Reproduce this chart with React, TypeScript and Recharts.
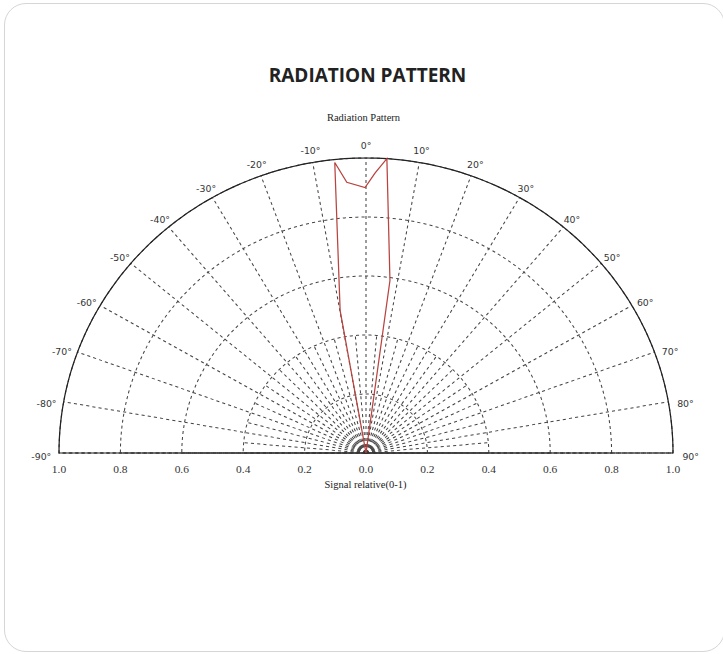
import React from 'react';
import { RadarChart, Radar, PolarGrid, PolarAngleAxis, PolarRadiusAxis } from 'recharts';

// ── beam outline (angle in degrees from boresight, relative signal 0-1) ──
const beamAngles = [0, -9.9, -7.6, -5.9, -3.9, -0.2, 1.8, 3.9, 7.6, 0];
const beamSignal = [0, 0.49, 0.69, 0.99, 0.92, 0.9, 0.95, 1.0, 0.59, 0];

const angleTicks = [-90, -80, -70, -60, -50, -40, -30, -20, -10, 0, 10, 20, 30, 40, 50, 60, 70, 80, 90];
// extra short spokes near the centre
const fineAngleTicks = [-85, -75, -65, -55, -45, -35, -25, -15, -5, 5, 15, 25, 35, 45, 55, 65, 75, 85];
const leftRadiusTicks = [0, 0.2, 0.4, 0.6, 0.8, 1.0];
const rightRadiusTicks = [0.2, 0.4, 0.6, 0.8, 1.0];

const data = beamAngles.map((a, i) => ({ angle: a, signal: beamSignal[i] }));

// geometry of the half-disc
const CX = 366;
const CY = 453;
const R = 295;
const FINE_R = R * 0.4;
const STRETCH = 307 / 295; // the original plot is a little wider than tall
// vertices for the arc-shaped rings (chart degrees, 0 = right, 180 = left)
const ARC_STEPS = Array.from({ length: 181 }, (_, i) => i);

const SERIF = '"Liberation Serif", "Times New Roman", serif';

function AngleTick(props: any) {
  const { x, y, payload } = props;
  const s = Math.sin((payload.value * Math.PI) / 180);
  return (
    <text
      x={x + 5 * Math.pow(s, 5)}
      y={y + 4 * s * s}
      textAnchor="middle"
      dominantBaseline="central"
      fontSize={9}
      fontFamily='"DejaVu Sans", sans-serif'
      fill="#333"
    >
      {`${payload.value}°`}
    </text>
  );
}

function RadiusTick(props: any) {
  const { x, y, payload } = props;
  return (
    <text
      x={x}
      y={y + 16}
      textAnchor="middle"
      dominantBaseline="central"
      fontSize={11}
      fontFamily={SERIF}
      fill="#333"
    >
      {Number(payload.value).toFixed(1)}
    </text>
  );
}

export default function App() {
  return (
    <div style={{ position: 'absolute', left: 0, top: 0, width: 723, height: 654, overflow: 'hidden', background: '#fff' }}>
      {/* card */}
      <div
        style={{
          position: 'absolute', left: 4, top: 3, width: 721, height: 649,
          border: '1px solid #d6d6d6', borderRadius: 22, boxSizing: 'border-box',
        }}
      />

      <div style={{ position: 'absolute', left: 6, top: 64, width: 723, textAlign: 'center',
        fontFamily: '"Open Sans", sans-serif', fontWeight: 700, fontSize: 19, color: '#222', lineHeight: '22px' }}>
        RADIATION PATTERN
      </div>
      <div style={{ position: 'absolute', left: 2, top: 111, width: 723, textAlign: 'center',
        fontFamily: SERIF, fontSize: 10.5, color: '#222', lineHeight: '14px' }}>
        Radiation Pattern
      </div>
      <div style={{ position: 'absolute', left: 4, top: 478, width: 723, textAlign: 'center',
        fontFamily: SERIF, fontSize: 10.5, color: '#222', lineHeight: '14px' }}>
        Signal relative(0-1)
      </div>

      {/* short spokes around the origin */}
      <div style={{ position: 'absolute', left: 0, top: 0, transform: `scaleX(${STRETCH})`, transformOrigin: `${CX}px 0` }}>
        <RadarChart width={723} height={654} data={data} cx={CX} cy={CY} outerRadius={FINE_R}
          startAngle={180} endAngle={0} margin={{ top: 0, right: 0, bottom: 0, left: 0 }}>
          <PolarGrid polarRadius={[]} stroke="#444" strokeDasharray="3 3" />
          <PolarAngleAxis dataKey="angle" type="number" domain={[-90, 90]} ticks={fineAngleTicks}
            axisLine={false} tickLine={false} tick={false} />
          <PolarRadiusAxis type="number" domain={[0, 1]} axisLine={false} tick={false} />
          <Radar dataKey="signal" stroke="none" fill="none" fillOpacity={0} dot={false} isAnimationActive={false} />
        </RadarChart>
      </div>

      <div style={{ position: 'absolute', left: 0, top: 0, transform: `scaleX(${STRETCH})`, transformOrigin: `${CX}px 0` }}>
        <RadarChart
          width={723}
          height={654}
          data={data}
          cx={CX}
          cy={CY}
          outerRadius={R}
          startAngle={180}
          endAngle={0}
          margin={{ top: 0, right: 0, bottom: 0, left: 0 }}
        >
          {/* dashed rings */}
          <PolarGrid gridType="polygon" polarAngles={ARC_STEPS} radialLines={false}
            stroke="#444" strokeDasharray="3 3" />
          {/* dashed spokes */}
          <PolarGrid polarRadius={[]} stroke="#444" strokeDasharray="3 3" />
          {/* solid rim + baseline */}
          <PolarGrid gridType="polygon" polarAngles={ARC_STEPS} radialLines={false}
            radiusAxisId="outer" stroke="#222" strokeWidth={1.2} strokeDasharray="none" />

          <PolarAngleAxis dataKey="angle" type="number" domain={[-90, 90]} ticks={angleTicks}
            axisLine={false} tickLine={false} tickSize={12} tick={<AngleTick />} />
          <PolarRadiusAxis angle={180} type="number" domain={[0, 1]} ticks={leftRadiusTicks}
            axisLine={false} tick={<RadiusTick />} />
          <PolarRadiusAxis radiusAxisId="right" angle={0} type="number" domain={[0, 1]}
            ticks={rightRadiusTicks} axisLine={false} tick={<RadiusTick />} />
          <PolarRadiusAxis radiusAxisId="outer" angle={90} type="number" domain={[0, 1]} ticks={[1]}
            axisLine={false} tick={false} />

          {/* invisible series so the extra radius axes get registered */}
          <Radar dataKey="signal" radiusAxisId="right" stroke="none" fill="none" fillOpacity={0}
            dot={false} isAnimationActive={false} />
          <Radar dataKey="signal" radiusAxisId="outer" stroke="none" fill="none" fillOpacity={0}
            dot={false} isAnimationActive={false} />

          <Radar dataKey="signal" stroke="#b8433f" strokeWidth={1.2} fill="none" fillOpacity={0}
            dot={false} isAnimationActive={false} />
        </RadarChart>
      </div>
    </div>
  );
}
